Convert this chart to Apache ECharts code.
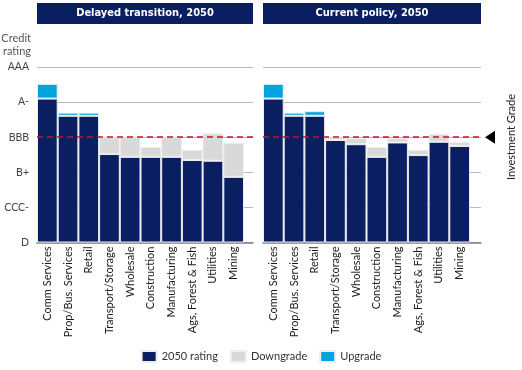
<!DOCTYPE html>
<html>
<head>
<meta charset="utf-8">
<script src="https://cdn.jsdelivr.net/npm/echarts@6/dist/echarts.min.js"></script>
<style>
html,body{margin:0;padding:0;background:#fff;}
#chart{width:522px;height:370px;}
</style>
</head>
<body>
<div id="chart"></div>
<script>
const categories = ['Comm Services','Prop/Bus. Services','Retail','Transport/Storage','Wholesale','Construction','Manufacturing','Ags, Forest & Fish','Utilities','Mining'];
const ratingLevels = ['D','CCC-','B+','BBB','A-','AAA'];
const panelTitles = ['Delayed transition, 2050','Current policy, 2050'];
const seriesNames = ['2050 rating','Downgrade','Upgrade'];
const delayedRating    = [4.10,3.61,3.61,2.52,2.44,2.44,2.44,2.35,2.33,1.87];
const delayedDowngrade = [0,0,0,0.48,0.56,0.28,0.56,0.29,0.78,0.97];
const delayedUpgrade   = [0.42,0.09,0.09,0,0,0,0,0,0,0];
const currentRating    = [4.10,3.61,3.61,2.92,2.80,2.44,2.85,2.49,2.87,2.75];
const currentDowngrade = [0,0,0,0.08,0.17,0.28,0.12,0.15,0.22,0.11];
const currentUpgrade   = [0.42,0.09,0.13,0,0,0,0,0,0,0];
const investmentGradeLevel = 3;
const investmentGradeLabel = 'Investment Grade';
const yAxisName = 'Credit\nrating';

const NAVY = '#0a1f61', GRAY = '#d9d9d9', CYAN = '#00a5e0';
const colors = [NAVY, GRAY, CYAN];
const FONT = 'Lato, "Open Sans", sans-serif';
const TFONT = '"Liberation Sans Narrow", "DejaVu Sans Condensed", sans-serif';

const gridTop = 67, gridBottom = 127.5;
const nz = v => (v ? v : '-');

function barSeries(gi, arrs){
  return arrs.map((arr, k) => ({
    name: seriesNames[k], type: 'bar', stack: 'p' + gi,
    xAxisIndex: gi, yAxisIndex: gi,
    barCategoryGap: '0%',
    itemStyle: {color: colors[k], borderColor: '#eeeeee', borderWidth: 1},
    data: arr.map(nz), z: 3
  }));
}

const markLineCfg = {
  silent: true, symbol: 'none', label: {show: false},
  lineStyle: {color: '#c8102e', type: [6,4], width: 1.5},
  data: [{yAxis: investmentGradeLevel}]
};

const option = {
  animation: false,
  title: panelTitles.map((t, i) => ({
    text: '{t|' + t + '}', left: i === 0 ? 37 : 263, top: 3, padding: 0,
    textStyle: {rich: {t: {width: i === 0 ? 216 : 218, height: 21, align: 'center', backgroundColor: NAVY,
      color: '#fff', fontWeight: 'bold', fontSize: 11, fontFamily: TFONT}}}
  })),
  legend: {
    data: seriesNames, top: 345, left: 'center', itemWidth: 15, itemHeight: 11, itemGap: 12,
    icon: 'rect', textStyle: {fontFamily: FONT, fontSize: 11, color: '#333'}
  },
  grid: [
    {left: 37, width: 216, top: gridTop, bottom: gridBottom},
    {left: 37, width: 207, top: gridTop, bottom: gridBottom},
    {left: 263, width: 218, top: gridTop, bottom: gridBottom},
    {left: 263, width: 207, top: gridTop, bottom: gridBottom}
  ],
  xAxis: [0,1,2,3].map(i => i % 2 === 0 ? {
    gridIndex: i, type: 'value', min: 0, max: 1,
    axisLabel: {show: false}, axisTick: {show: false}, splitLine: {show: false},
    axisLine: {show: true, lineStyle: {color: '#7f7f7f', width: 1.5}}
  } : {
    gridIndex: i, type: 'category', data: categories,
    axisLine: {show: false}, axisTick: {show: false},
    axisLabel: {rotate: 90, interval: 0, margin: 4, fontFamily: FONT, fontSize: 11, color: '#1a1a1a'}
  }),
  yAxis: [0,1,2,3].map(i => i % 2 === 0 ? {
    gridIndex: i, type: 'value', min: 0, max: 5, interval: 1,
    name: i === 0 ? yAxisName : '', nameLocation: 'end', nameGap: 9,
    nameTextStyle: {align: 'right', verticalAlign: 'bottom', padding: [0, 6, 0, 0], fontFamily: FONT, fontSize: 11, color: '#555', lineHeight: 13},
    axisLine: {show: false}, axisTick: {show: false},
    axisLabel: {show: i === 0, margin: 8, formatter: v => ratingLevels[v] || '', fontFamily: FONT, fontSize: 10.5, color: '#444'},
    splitLine: {show: true, lineStyle: {color: '#b8b8b8', width: 1.2}}
  } : {
    gridIndex: i, type: 'value', min: 0, max: 5, show: false, splitLine: {show: false}
  }),
  series: [
    {type: 'line', xAxisIndex: 0, yAxisIndex: 0, data: [], z: 10, markLine: markLineCfg},
    {type: 'line', xAxisIndex: 2, yAxisIndex: 2, data: [], z: 10, markLine: markLineCfg,
     markPoint: {silent: true, symbol: 'triangle', symbolRotate: 90, symbolSize: [13, 10], symbolOffset: [9, 0],
       itemStyle: {color: '#000'}, label: {show: false}, data: [{coord: [1, investmentGradeLevel]}]}},
    ...barSeries(1, [delayedRating, delayedDowngrade, delayedUpgrade]),
    ...barSeries(3, [currentRating, currentDowngrade, currentUpgrade])
  ],
  graphic: [{
    type: 'text', x: 511, y: 137, rotation: Math.PI / 2,
    style: {text: investmentGradeLabel, align: 'center', verticalAlign: 'middle', fontFamily: FONT, fontSize: 11, fill: '#222'}
  }]
};

const chart = echarts.init(document.getElementById('chart'), null, {renderer: 'canvas'});
chart.setOption(option);
</script>
</body>
</html>
